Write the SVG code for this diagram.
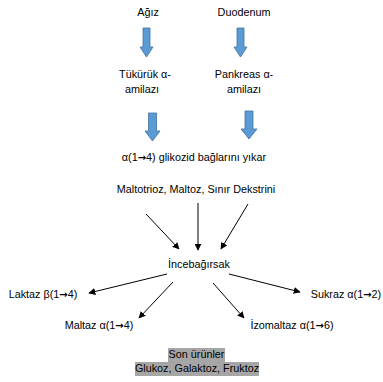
<svg xmlns="http://www.w3.org/2000/svg" width="383" height="382" viewBox="0 0 383 382">
<style>
text{font-family:"Liberation Sans",Arial,sans-serif;font-size:10.8px;fill:#000;text-anchor:middle}
.ar{font-family:"DejaVu Sans",sans-serif;font-weight:bold;font-size:10px}
.blk{fill:#5b9bd5;stroke:#41719c;stroke-width:0.8}
.ln{stroke:#000;stroke-width:1;fill:none;marker-end:url(#ah)}
.hl{fill:#a6a6a6}
</style>
<defs>
<marker id="ah" viewBox="0 0 10 10" refX="9" refY="5" markerWidth="7" markerHeight="7" orient="auto" markerUnits="userSpaceOnUse">
<path d="M0,0 L10,5 L0,10 z" fill="#000"/>
</marker>
</defs>
<rect width="383" height="382" fill="#fff"/>
<g id="agiz"><text x="148" y="16">Ağız</text></g>
<g id="duodenum"><text x="244" y="16">Duodenum</text></g>
<g id="blockarrows">
<path class="blk" d="M143,28 H150 V47 H153 L146.5,57 L140,47 H143 Z"/>
<path class="blk" d="M237,28 H244 V47 H247 L240.5,57 L234,47 H237 Z"/>
<path class="blk" d="M148.5,113 H156.5 V131 H160 L152.5,141 L145,131 H148.5 Z"/>
<path class="blk" d="M245,111 H253 V129 H257 L249,139 L241,129 H245 Z"/>
</g>
<g id="tukuruk"><text x="145" y="78">Tükürük α-</text><text x="142" y="93">amilazı</text></g>
<g id="pankreas"><text x="244" y="78">Pankreas α-</text><text x="244" y="93">amilazı</text></g>
<g id="glikozid"><text x="194" y="161">α(1<tspan class="ar">→</tspan>4) glikozid bağlarını yıkar</text></g>
<g id="maltotrioz"><text x="196" y="193">Maltotrioz, Maltoz, Sınır Dekstrini</text></g>
<g id="incebagirsak"><text x="199" y="268">İncebağırsak</text></g>
<g id="laktaz"><text x="43" y="298">Laktaz β(1<tspan class="ar">→</tspan>4)</text></g>
<g id="sukraz"><text x="346" y="298">Sukraz α(1<tspan class="ar">→</tspan>2)</text></g>
<g id="maltaz"><text x="99" y="329">Maltaz α(1<tspan class="ar">→</tspan>4)</text></g>
<g id="izomaltaz"><text x="292" y="329">İzomaltaz α(1<tspan class="ar">→</tspan>6)</text></g>
<g id="sonurunler">
<rect class="hl" x="168" y="348" width="57" height="14"/>
<rect class="hl" x="135" y="362" width="124" height="14"/>
<text x="196.5" y="358">Son ürünler</text>
<text x="197" y="372">Glukoz, Galaktoz, Fruktoz</text>
</g>
<g id="connectors">
<line class="ln" x1="146" y1="214" x2="179" y2="249"/>
<line class="ln" x1="198" y1="203" x2="198" y2="250"/>
<line class="ln" x1="248" y1="204" x2="221" y2="249"/>
<line class="ln" x1="167" y1="274" x2="89" y2="293"/>
<line class="ln" x1="173" y1="282" x2="139" y2="318"/>
<line class="ln" x1="213" y1="283" x2="244" y2="318"/>
<line class="ln" x1="229" y1="274" x2="300" y2="292"/>
</g>
</svg>
